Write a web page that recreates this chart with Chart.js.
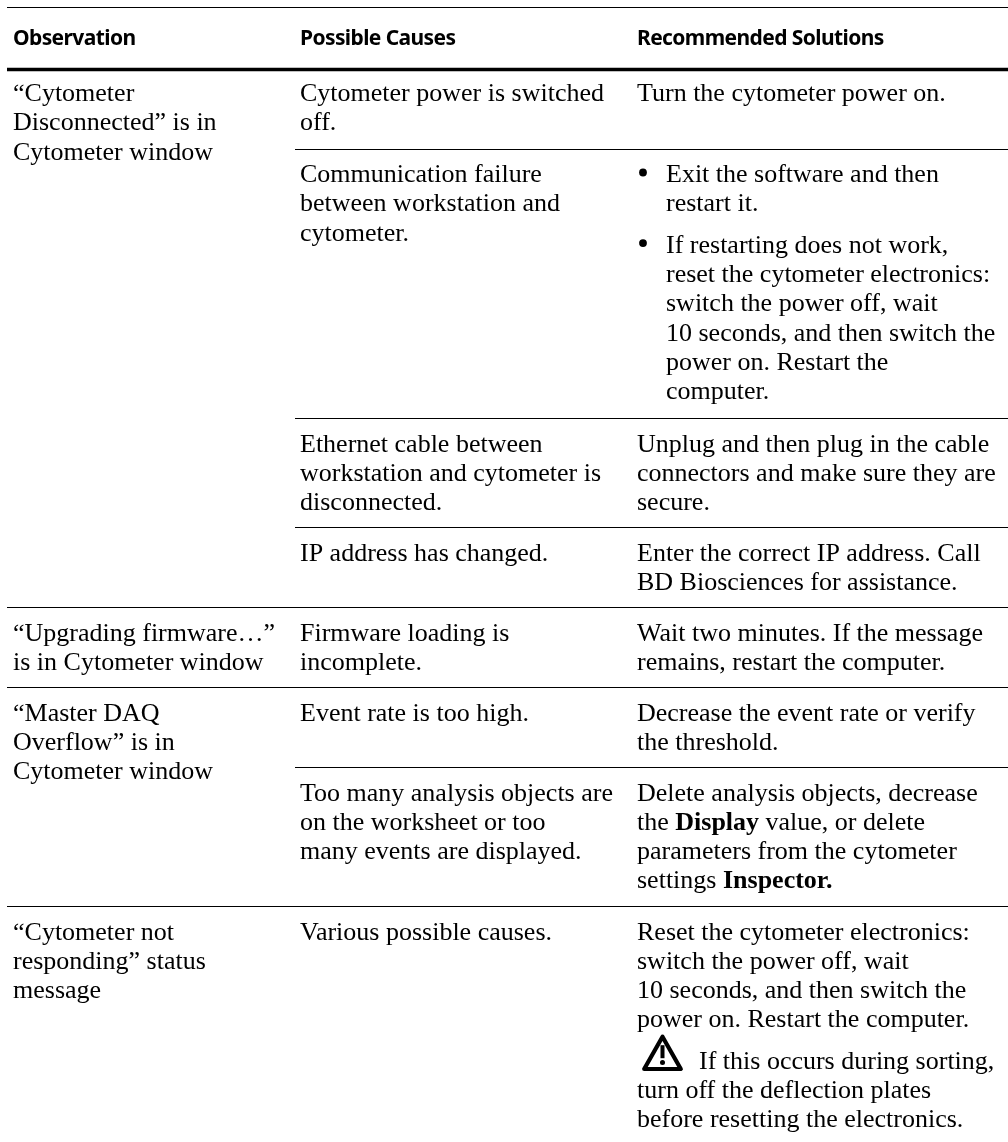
<!DOCTYPE html>
<html>
<head>
<meta charset="utf-8">
<title>Troubleshooting table</title>
<script src="https://cdn.jsdelivr.net/npm/chart.js@4/dist/chart.umd.min.js"></script>
<style>
  html, body { margin: 0; padding: 0; background: #fff; }
  canvas { display: block; }
</style>
</head>
<body>
<canvas id="tableChart" width="1008" height="1142"></canvas>
<script>
// table content, ** marks bold runs, one inner array per paragraph
const headers = ['Observation', 'Possible Causes', 'Recommended Solutions'];

const observations = [
  [['“Cytometer', 'Disconnected” is in', 'Cytometer window']],
  [['“Upgrading firmware…”', 'is in Cytometer window']],
  [['“Master DAQ', 'Overflow” is in', 'Cytometer window']],
  [['“Cytometer not', 'responding” status', 'message']],
];

const causes = [
  [['Cytometer power is switched', 'off.']],
  [['Communication failure', 'between workstation and', 'cytometer.']],
  [['Ethernet cable between', 'workstation and cytometer is', 'disconnected.']],
  [['IP address has changed.']],
  [['Firmware loading is', 'incomplete.']],
  [['Event rate is too high.']],
  [['Too many analysis objects are', 'on the worksheet or too', 'many events are displayed.']],
  [['Various possible causes.']],
];

const solutions = [
  [['Turn the cytometer power on.']],
  [
    ['Exit the software and then', 'restart it.'],
    ['If restarting does not work,', 'reset the cytometer electronics:', 'switch the power off, wait', '10 seconds, and then switch the', 'power on. Restart the', 'computer.'],
  ],
  [['Unplug and then plug in the cable', 'connectors and make sure they are', 'secure.']],
  [['Enter the correct IP address. Call', 'BD Biosciences for assistance.']],
  [['Wait two minutes. If the message', 'remains, restart the computer.']],
  [['Decrease the event rate or verify', 'the threshold.']],
  [['Delete analysis objects, decrease', 'the **Display** value, or delete', 'parameters from the cytometer', 'settings **Inspector.**']],
  [
    ['Reset the cytometer electronics:', 'switch the power off, wait', '10 seconds, and then switch the', 'power on. Restart the computer.'],
    ['If this occurs during sorting,', 'turn off the deflection plates', 'before resetting the electronics.'],
  ],
];

// which cell of the causes/solutions columns has bullets or the warning icon
const bulletCell = 1;
const warningCell = 7;

// rule values, in y axis units
const causeTops = [68, 149, 418.5, 527.5, 607.5, 687.5, 767.5, 906.5];
const observationTops = [68, 607.5, 687.5, 906.5];
const fullRules = [7.5, 607.5, 687.5, 906.5];
const partialRules = [149.5, 418.5, 527.5, 767.5];
const headerRule = 69.5;

const columnX = [13, 300, 637];
const ruleLeft = 7;
const partialLeft = 295;
const pageRight = 1008;

const BODY_FONT = '26px "Liberation Serif"';
const BOLD_FONT = 'bold 26px "Liberation Serif"';
const HEADER_FONT = 'bold 21px "Noto Sans"';
const LEADING = 29.3;
const FIRST_BASELINE = 33;
const PARAGRAPH_GAP = 12;
const BULLET_INDENT = 29;

function ruleDataset(left, y, width) {
  return {
    data: [{ x: left, y }, { x: pageRight, y }],
    showLine: true,
    borderColor: '#000',
    borderWidth: width,
    pointRadius: 0,
  };
}

function drawRuns(ctx, line, x, y) {
  line.split('**').forEach((run, i) => {
    ctx.font = i % 2 ? BOLD_FONT : BODY_FONT;
    ctx.fillText(run, x, y);
    x += ctx.measureText(run).width;
  });
}

function drawWarning(ctx, x, y) {
  // icon box is 41 wide, 37 high, x/y is bottom left
  ctx.save();
  ctx.strokeStyle = '#000';
  ctx.fillStyle = '#000';
  ctx.lineWidth = 4.2;
  ctx.lineJoin = 'round';
  ctx.beginPath();
  ctx.moveTo(x + 20.5, y - 34.5);
  ctx.lineTo(x + 38.8, y - 2.2);
  ctx.lineTo(x + 2.2, y - 2.2);
  ctx.closePath();
  ctx.stroke();
  ctx.fillRect(x + 18.5, y - 26, 4, 13);
  ctx.beginPath();
  ctx.arc(x + 20.5, y - 8.8, 2.5, 0, Math.PI * 2);
  ctx.fill();
  ctx.restore();
}

function drawColumn(ctx, xScale, yScale, cells, tops, columnIndex, decorate) {
  cells.forEach((paragraphs, c) => {
    const left = columnX[columnIndex];
    let y = yScale.getPixelForValue(tops[c]) + FIRST_BASELINE;
    paragraphs.forEach((lines, p) => {
      const bullets = decorate && c === bulletCell;
      const textX = xScale.getPixelForValue(bullets ? left + BULLET_INDENT : left);
      lines.forEach((line, l) => {
        if (bullets && l === 0) {
          ctx.beginPath();
          ctx.arc(xScale.getPixelForValue(left + 6), y - 9.5, 3.9, 0, Math.PI * 2);
          ctx.fill();
        }
        let x = textX;
        if (decorate && c === warningCell && p === 1 && l === 0) {
          drawWarning(ctx, x + 5, y + 2.5);
          x += 62;
        }
        drawRuns(ctx, line, x, y);
        y += LEADING;
      });
      y += PARAGRAPH_GAP;
    });
  });
}

const tableText = {
  id: 'tableText',
  afterDatasetsDraw(chart) {
    const { ctx, scales } = chart;
    const { x, y } = scales;
    ctx.save();
    ctx.fillStyle = '#000';
    ctx.textBaseline = 'alphabetic';
    ctx.letterSpacing = '-0.6px';
    ctx.font = HEADER_FONT;
    headers.forEach((h, i) => {
      ctx.fillText(h, x.getPixelForValue(columnX[i]), y.getPixelForValue(45));
    });
    ctx.letterSpacing = '0px';
    drawColumn(ctx, x, y, observations, observationTops, 0, false);
    drawColumn(ctx, x, y, causes, causeTops, 1, false);
    drawColumn(ctx, x, y, solutions, causeTops, 2, true);
    ctx.restore();
  },
};

const datasets = [
  ruleDataset(ruleLeft, headerRule, 3.5),
  ...fullRules.map((y) => ruleDataset(ruleLeft, y, 1.2)),
  ...partialRules.map((y) => ruleDataset(partialLeft, y, 1.2)),
];

new Chart(document.getElementById('tableChart').getContext('2d'), {
  type: 'scatter',
  data: { datasets },
  options: {
    responsive: false,
    animation: false,
    events: [],
    layout: { padding: 0 },
    scales: {
      x: { type: 'linear', display: false, min: 0, max: pageRight },
      y: { type: 'linear', display: false, reverse: true, min: 0, max: 1142 },
    },
    plugins: { legend: { display: false }, tooltip: { enabled: false } },
  },
  plugins: [tableText],
});
</script>
</body>
</html>
